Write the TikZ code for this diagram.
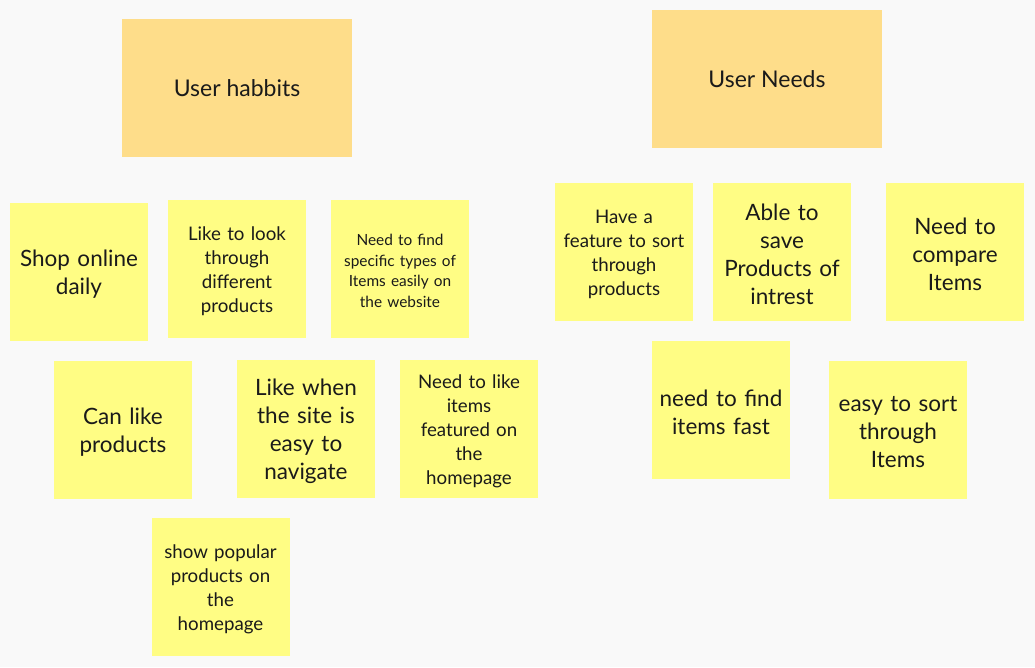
\documentclass[tikz,border=0pt]{standalone}
\usepackage{fontspec}
\setmainfont{Lato}
\definecolor{bgc}{HTML}{F9F9F9}
\definecolor{sticky}{HTML}{FFFD84}
\definecolor{header}{HTML}{FEDD8A}
\definecolor{ink}{HTML}{1A1A1A}
\begin{document}
\begin{tikzpicture}[x=1pt,y=-1pt,
  note/.style={fill=sticky,minimum width=138pt,minimum height=138pt,inner sep=0pt},
  txt/.style={inner sep=0pt,text width=134pt,align=center,text=ink},
  head/.style={fill=header,minimum width=230pt,minimum height=138pt,inner sep=0pt,align=center,text=ink,font=\fontsize{23}{28}\selectfont},
  big/.style={txt,font=\fontsize{22.5}{28}\selectfont},
  mid/.style={txt,font=\fontsize{18.7}{24}\selectfont},
  small/.style={txt,font=\fontsize{15.4}{20.5}\selectfont}]
\fill[bgc] (0,0) rectangle (1035,667);
\useasboundingbox (0,0) rectangle (1035,667);
\node[head] (h1) at (237,88) {User habbits};
\node[head] (h2) at (767,79) {User Needs};
\node[note] (n1) at (79,272) {};
\node[note] (n2) at (237,269) {};
\node[note] (n3) at (400,269) {};
\node[note] (n4) at (624,252) {};
\node[note] (n5) at (782,252) {};
\node[note] (n6) at (955,252) {};
\node[note] (n7) at (123,430) {};
\node[note] (n8) at (306,429) {};
\node[note] (n9) at (469,429) {};
\node[note] (n10) at (721,410) {};
\node[note] (n11) at (898,430) {};
\node[note] (n12) at (220.5,587) {};
\node[big] (t1) at ([yshift=-2pt]n1.center) {Shop online\\daily};
\node[mid] (t2) at ([yshift=-2pt]n2.center) {Like to look\\through\\different\\products};
\node[small] (t3) at ([yshift=-2pt]n3.center) {Need to find\\specific types of\\Items easily on\\the website};
\node[mid] (t4) at ([yshift=-2pt]n4.center) {Have a\\feature to sort\\through\\products};
\node[big] (t5) at ([yshift=-2pt]n5.center) {Able to\\save\\Products of\\intrest};
\node[big] (t6) at ([yshift=-2pt]n6.center) {Need to\\compare\\Items};
\node[big] (t7) at ([yshift=-2pt]n7.center) {Can like\\products};
\node[big] (t8) at ([yshift=-2pt]n8.center) {Like when\\the site is\\easy to\\navigate};
\node[mid] (t9) at ([yshift=-2pt]n9.center) {Need to like\\items\\featured on\\the\\homepage};
\node[big] (t10) at ([yshift=-2pt]n10.center) {need to find\\items fast};
\node[big] (t11) at ([yshift=-2pt]n11.center) {easy to sort\\through\\Items};
\node[mid] (t12) at ([yshift=-2pt]n12.center) {show popular\\products on\\the\\homepage};
\end{tikzpicture}
\end{document}
